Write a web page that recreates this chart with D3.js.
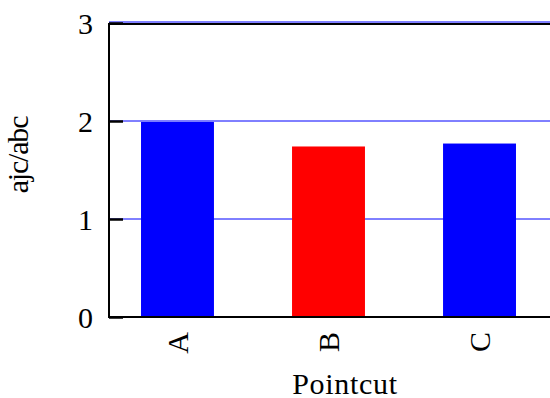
<!DOCTYPE html>
<html>
<head>
<meta charset="utf-8">
<script src="https://cdn.jsdelivr.net/npm/d3@7/dist/d3.min.js"></script>
<style>
  @font-face {
    font-family: "ChartSerif";
    src: local("Liberation Serif"), local("LiberationSerif-Regular"), local("LiberationSerif");
  }
  body { margin: 0; background: #fff; font-family: "Liberation Serif", "ChartSerif", "DejaVu Serif"; }
  #chart text { font-family: "Liberation Serif", "ChartSerif", "Times New Roman", "DejaVu Serif"; }
</style>
</head>
<body>
<svg id="chart" width="550" height="398" font-family="Liberation Serif"></svg>
<script>
const categories = ["A", "B", "C"];
const values = [1.99, 1.74, 1.77];
const barColors = ["#0000ff", "#ff0000", "#0000ff"];
const yTicks = [0, 1, 2, 3];
const gridValues = [1, 2, 3];

const svgWidth = 550;
const plotLeft = 109;
const plotBottom = 317;
const plotTop = 23;
const fontSize = 30;
const fontStack = `"Liberation Serif", "ChartSerif", "Times New Roman", "DejaVu Serif"`;

const svg = d3.select("#chart");

// every text gets the serif face
function serifText(sel) {
  sel.attr("font-size", fontSize)
    .attr("fill", "#000")
    .style("font-family", fontStack);
}

const xScale = d3.scaleBand()
  .domain(categories)
  .range([plotLeft, 548])
  .paddingInner(0.517)
  .paddingOuter(0.212);

const yScale = d3.scaleLinear()
  .domain([0, 3])
  .range([plotBottom, plotTop]);

// blue grid lines
svg.selectAll("line.grid")
  .data(gridValues)
  .enter()
  .append("line")
  .attr("class", "grid")
  .attr("x1", plotLeft)
  .attr("x2", svgWidth)
  .attr("y1", d => yScale(d) - (d === 3 ? 1 : 0))
  .attr("y2", d => yScale(d) - (d === 3 ? 1 : 0))
  .attr("stroke", "#0000ff")
  .attr("stroke-width", 1);

svg.selectAll("rect.bar")
  .data(values)
  .enter()
  .append("rect")
  .attr("class", "bar")
  .attr("x", (d, i) => xScale(categories[i]))
  .attr("y", d => yScale(d))
  .attr("width", xScale.bandwidth())
  .attr("height", d => yScale(0) - yScale(d))
  .attr("fill", (d, i) => barColors[i]);

// top frame line
svg.append("line")
  .attr("x1", plotLeft)
  .attr("x2", svgWidth)
  .attr("y1", yScale(3) + 1)
  .attr("y2", yScale(3) + 1)
  .attr("stroke", "#000")
  .attr("stroke-width", 2);

// y axis with inward ticks
const yAxis = d3.axisLeft(yScale)
  .tickValues(yTicks)
  .tickSize(-14)
  .tickFormat(d3.format("d"));

const yG = svg.append("g")
  .attr("transform", `translate(${plotLeft}, 0)`)
  .call(yAxis);
yG.attr("font-family", null).attr("font-size", null);
yG.select(".domain").remove();
yG.selectAll(".tick line").attr("stroke", "#000").attr("stroke-width", 2.5);
yG.selectAll(".tick text")
  .call(serifText)
  .attr("x", -16)
  .attr("dy", "0.34em");

svg.append("line")
  .attr("x1", plotLeft)
  .attr("x2", plotLeft)
  .attr("y1", yScale(3))
  .attr("y2", yScale(0) + 1)
  .attr("stroke", "#000")
  .attr("stroke-width", 2);

// x axis
const xAxis = d3.axisBottom(xScale).tickSize(0);
const xG = svg.append("g")
  .attr("transform", `translate(0, ${plotBottom})`)
  .call(xAxis);
xG.attr("font-family", null).attr("font-size", null);
xG.select(".domain").remove();
xG.selectAll(".tick text")
  .call(serifText)
  .attr("transform", "rotate(-90)")
  .attr("text-anchor", "end")
  .attr("x", -15)
  .attr("y", 0)
  .attr("dy", "0.34em");

svg.append("line")
  .attr("x1", plotLeft - 1)
  .attr("x2", svgWidth)
  .attr("y1", plotBottom)
  .attr("y2", plotBottom)
  .attr("stroke", "#000")
  .attr("stroke-width", 2);

// axis titles
svg.append("text")
  .call(serifText)
  .attr("x", 345)
  .attr("y", 394)
  .attr("text-anchor", "middle")
  .attr("letter-spacing", 0.7)
  .text("Pointcut");

svg.append("text")
  .call(serifText)
  .attr("transform", "translate(28, 155) rotate(-90)")
  .attr("text-anchor", "middle")
  .attr("letter-spacing", -1.2)
  .text("ajc/abc");
</script>
</body>
</html>
